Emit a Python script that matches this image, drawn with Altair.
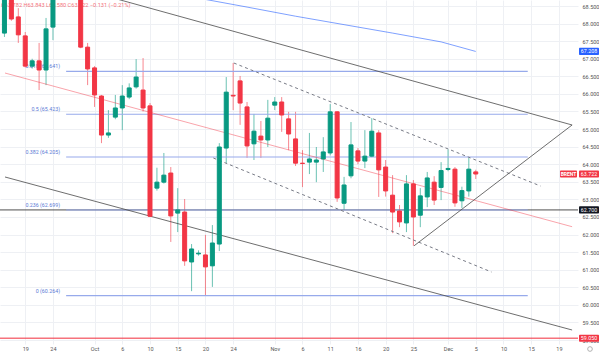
import altair as alt
import pandas as pd

# ---------------- data ----------------
bar = list(range(69))
opens = [67.73, 68.95, 68.19, 67.65, 66.79, 66.94, 66.68, 67.90, 68.95, 69.35,
         69.90, 69.45, 67.33, 66.74, 65.94, 64.83, 65.34, 65.60, 65.91, 66.20,
         66.11, 65.66, 63.32, 63.49, 63.75, 62.61, 62.64, 61.22, 61.45, 61.42,
         61.11, 61.73, 64.46, 65.96, 66.37, 65.63, 64.58, 64.80, 64.69, 65.68,
         65.77, 65.29, 64.72, 64.03, 64.06, 64.06, 64.15, 64.32, 65.49, 62.89,
         63.67, 64.38, 64.09, 64.23, 64.89, 63.92, 63.12, 62.67, 62.33, 63.44,
         62.55, 63.07, 63.49, 63.34, 63.85, 63.86, 62.96, 63.24, 63.782]
highs = [69.10, 69.05, 68.44, 67.76, 67.00, 67.45, 68.16, 69.30, 69.60, 70.10,
         70.30, 69.60, 67.45, 66.79, 65.97, 65.54, 65.97, 66.25, 66.30, 66.99,
         67.02, 65.74, 63.90, 64.32, 63.92, 63.32, 63.01, 61.73, 61.55, 61.99,
         62.27, 64.60, 66.48, 66.88, 66.51, 65.77, 65.43, 65.23, 65.83, 65.91,
         65.91, 65.49, 65.49, 64.40, 64.89, 64.49, 64.77, 65.71, 65.51, 63.64,
         65.20, 64.46, 64.97, 65.31, 64.97, 64.12, 63.69, 62.84, 63.69, 63.55,
         63.32, 63.78, 63.66, 64.06, 64.42, 63.92, 63.36, 64.18, 63.843]
lows = [67.62, 68.08, 67.45, 66.75, 66.72, 66.11, 66.25, 67.53, 68.80, 69.10,
        69.20, 67.30, 66.25, 65.63, 64.60, 64.75, 65.28, 64.97, 65.85, 66.15,
        65.50, 62.50, 63.25, 63.45, 61.79, 62.07, 61.11, 60.39, 61.40, 60.26,
        60.51, 61.53, 64.03, 65.54, 65.12, 64.18, 64.12, 64.18, 64.49, 65.54,
        64.92, 64.40, 63.95, 63.35, 63.72, 63.49, 63.78, 64.25, 62.93, 62.70,
        63.60, 64.00, 63.89, 64.20, 63.07, 63.08, 62.04, 62.21, 62.07, 61.68,
        62.21, 62.78, 62.84, 62.98, 63.80, 62.79, 62.75, 63.08, 63.580]
closes = [68.95, 68.13, 67.68, 66.79, 66.94, 66.68, 67.85, 68.95, 69.35, 69.90,
          69.45, 67.33, 66.71, 65.97, 64.83, 64.89, 65.60, 65.94, 66.17, 66.48,
          65.60, 62.52, 63.49, 63.69, 62.53, 62.70, 61.25, 61.59, 61.47, 61.08,
          61.76, 64.49, 66.05, 65.94, 65.74, 64.52, 64.94, 64.69, 65.31, 65.77,
          65.40, 64.86, 64.03, 64.02, 64.15, 64.12, 64.35, 65.49, 63.04, 63.41,
          64.55, 64.09, 64.23, 64.94, 63.84, 63.24, 62.64, 62.36, 63.44, 62.50,
          63.10, 63.61, 62.98, 63.82, 63.88, 62.90, 63.25, 63.86, 63.722]

tick_bar = [3, 7, 13, 17, 21, 25, 29, 33, 39, 43, 47, 51, 55, 59, 64, 68, 72, 76, 80]
tick_lab = ["19", "24", "Oct", "6", "10", "15", "20", "24", "Nov", "6", "11", "16",
            "20", "25", "Dec", "5", "10", "15", "19"]
price_ticks = [59.0, 59.5, 60.0, 60.5, 61.0, 61.5, 62.0, 62.5, 63.0, 63.5, 64.0,
               64.5, 65.0, 65.5, 66.0, 66.5, 67.0, 67.5, 68.0, 68.5]

# moving average (read points)
ma_bar = [27, 35, 42, 49, 56, 63, 68]
ma_val = [68.76, 68.47, 68.21, 67.97, 67.73, 67.48, 67.208]

# fibonacci retracement
fib_level = ["0", "0.236", "0.382", "0.5", "0.618"]
fib_price = [60.264, 62.699, 64.205, 65.423, 66.641]
fib_from, fib_to = 8.9, 75.5

# drawn trend lines (bar, price anchors)
upper_bar, upper_price = [0.08, 81.9], [69.58, 65.116]
mid_bar, mid_price = [0.08, 81.9], [66.594, 62.223]
lower_bar, lower_price = [0.08, 81.9], [63.637, 59.285]
dash_up_bar, dash_up_price = [33.1, 77.35], [66.879, 63.38]
dash_lo_bar, dash_lo_price = [30.14, 70.27], [64.177, 60.935]
tri_bar, tri_price = [59.1, 81.9], [61.68, 65.116]

hline_dark = 62.700
hline_red = 59.050

box_price = [67.208, 63.722, 62.700, 59.050]
box_text = ["67.208", "63.722", "62.700", "59.050"]
box_color = ["#2962ff", "#f23645", "#131722", "#f23645"]

header = "O63.782 H63.843 L63.580 C63.722 \u22120.131 (\u22120.21%)"

# ---------------- chart ----------------
GREEN, RED = "#089981", "#f23645"
FONT = "Roboto"
W, H = 578, 344

xs = alt.Scale(domain=[0.08, 82.03], nice=False, zero=False)
ys = alt.Scale(domain=[58.887, 68.671], nice=False, zero=False)

label_expr = "[" + ",".join("'%s'" % t for t in tick_lab) + "][indexof([" + \
    ",".join(str(b) for b in tick_bar) + "], datum.value)]"

x_axis = alt.Axis(values=tick_bar, labelExpr=label_expr, title=None, domain=False,
                  ticks=False, labelFontSize=5.5, labelColor="#555", labelFont=FONT,
                  labelPadding=2, grid=True, gridColor="#eef0f4", labelFlush=False)
y_axis = alt.Axis(values=price_ticks, format=".3f", orient="right", title=None,
                  domain=False, ticks=False, labelFontSize=5.5, labelColor="#555",
                  labelFont=FONT, labelPadding=4, grid=True, gridColor="#eef0f4",
                  labelAlign="left", labelFlush=False)

cdf = pd.DataFrame({"bar": bar, "open": opens, "high": highs, "low": lows, "close": closes})
cdf["dir"] = ["up" if c >= o else "down" for o, c in zip(opens, closes)]
col = alt.Color("dir:N", scale=alt.Scale(domain=["up", "down"], range=[GREEN, RED]), legend=None)

base = alt.Chart(cdf)


def X(field="bar"):
    return alt.X(field + ":Q", scale=xs, axis=x_axis)


def Y(field="price"):
    return alt.Y(field + ":Q", scale=ys, axis=y_axis)


def seg(bars, prices, color, width=1.0, dash=None, opacity=1.0):
    df = pd.DataFrame({"bar": bars, "price": prices})
    kw = dict(color=color, strokeWidth=width, clip=True, opacity=opacity)
    if dash:
        kw["strokeDash"] = dash
    return alt.Chart(df).mark_line(**kw).encode(x=X(), y=Y())


wick = base.mark_rule(strokeWidth=1, opacity=0.6, clip=True).encode(
    x=X(), y=Y("low"), y2="high:Q", color=col)
body = base.mark_bar(size=4, strokeWidth=1, clip=True).encode(
    x=X(), y=Y("open"), y2="close:Q", color=col, stroke=col)

hdr = alt.Chart(pd.DataFrame({"t": [header]})).mark_text(
    align="left", baseline="middle", fontSize=5.6, font=FONT, color=RED, opacity=0.7
).encode(x=alt.value(1), y=alt.value(5), text="t:N")

ma = seg(ma_bar, ma_val, "#2962ff", 1.0, opacity=0.6)
upper = seg(upper_bar, upper_price, "#4a4a4a", 1.0, opacity=0.8)
lower = seg(lower_bar, lower_price, "#4a4a4a", 1.0, opacity=0.8)
mid = seg(mid_bar, mid_price, "#f23645", 1.0, opacity=0.45)
dup = seg(dash_up_bar, dash_up_price, "#787b86", 1.0, dash=[3, 3])
dlo = seg(dash_lo_bar, dash_lo_price, "#787b86", 1.0, dash=[3, 3])
tri = seg(tri_bar, tri_price, "#4a4a4a", 1.0, opacity=0.8)

hdark = alt.Chart(pd.DataFrame({"price": [hline_dark]})).mark_rule(
    color="#222", strokeWidth=1, opacity=0.8, clip=True).encode(y=Y())
hred = alt.Chart(pd.DataFrame({"price": [hline_red]})).mark_rule(
    color=RED, strokeWidth=1.6, opacity=0.7, clip=True).encode(y=Y())

fdf = pd.DataFrame({"level": fib_level, "price": fib_price,
                    "from": [fib_from] * 5, "to": [fib_to] * 5})
fdf["label"] = [f"{l} ({p:.3f})" for l, p in zip(fib_level, fib_price)]
fib_lines = alt.Chart(fdf).mark_rule(color="#97aaeb", strokeWidth=1.1, clip=True).encode(
    x=X("from"), x2="to:Q", y=Y())
fib_text = alt.Chart(fdf).mark_text(align="right", baseline="middle", dy=-5, fontSize=5.3,
                                    font=FONT, color="#5b7bd5").encode(
    x=alt.value(60), y=Y(), text="label:N")

bdf = pd.DataFrame({"price": box_price, "txt": box_text, "c": box_color})
boxes = alt.Chart(bdf).mark_rect(yOffset=-3.6, y2Offset=3.6, cornerRadius=1).encode(
    x=alt.value(579), x2=alt.value(599), y=Y(), y2="price:Q",
    color=alt.Color("c:N", scale=None))
box_txt = alt.Chart(bdf).mark_text(fontSize=5.3, font=FONT, color="white", baseline="middle").encode(
    x=alt.value(589), y=Y(), text="txt:N")

brent_df = pd.DataFrame({"price": [box_price[1]], "txt": ["BRENT"]})
brent_box = alt.Chart(brent_df).mark_rect(yOffset=-3.6, y2Offset=3.6, cornerRadius=1, color=RED).encode(
    x=alt.value(560), x2=alt.value(577), y=Y(), y2="price:Q")
brent_txt = alt.Chart(brent_df).mark_text(fontSize=5, font=FONT, color="white", baseline="middle",
                                          fontWeight="bold").encode(
    x=alt.value(568.5), y=Y(), text="txt:N")

icon = alt.Chart(pd.DataFrame({"k": [0]})).mark_point(
    shape="circle", size=22, filled=False, color="#777", strokeWidth=0.8).encode(
    x=alt.value(590), y=alt.value(349))

chart = alt.layer(
    wick, hdr, hred, hdark, fib_lines, fib_text, mid, upper, lower, ma,
    dup, dlo, tri, body, brent_box, brent_txt, boxes, box_txt, icon
).properties(width=W, height=H, background="white", padding=0).configure_view(stroke=None)

chart.save("out.html", embed_options={"renderer": "svg", "actions": False})
